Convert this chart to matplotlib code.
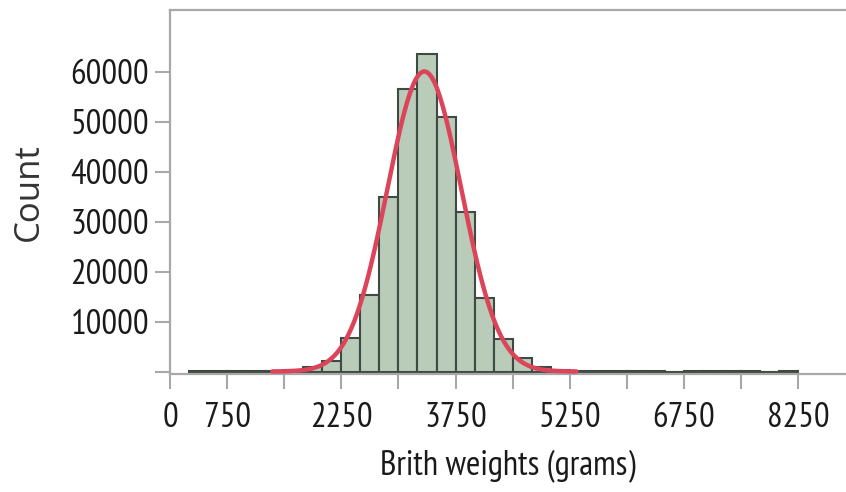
import numpy as np
import matplotlib
matplotlib.use("Agg")
import matplotlib.pyplot as plt

# histogram of birth weights, 250 g bins
bin_edges = list(range(250, 8251, 250))
counts = [150, 150, 150, 150, 200, 300, 960, 2160, 6640, 15300, 34960, 56440,
          63500, 50840, 31840, 14760, 6500, 2640, 960, 300, 200, 150, 150, 150,
          150, 0, 150, 150, 150, 150, 0, 150]

# fitted normal curve
mu = 3340
sigma = 487
n_total = 293000
bin_width = 250

x_ticks = list(range(0, 8251, 750))
x_labels = ["0", "750", "", "2250", "", "3750", "", "5250", "", "6750", "", "8250"]
y_ticks = [0, 10000, 20000, 30000, 40000, 50000, 60000]
y_labels = ["", "10000", "20000", "30000", "40000", "50000", "60000"]

narrow = ["PT Sans Narrow", "DejaVu Sans"]
grey = "#a8a8a8"

fig = plt.figure(figsize=(8.46, 4.92), dpi=100)
ax = fig.add_axes([170 / 846, 1 - 374 / 492, 1 - 170 / 846, 364 / 492])

lefts = np.array(bin_edges[:-1])
ax.bar(lefts, counts, width=bin_width, align="edge", color="#b9cbb9",
       edgecolor="#3f4a42", linewidth=1.5, zorder=2)

xs = np.linspace(mu - 4.1 * sigma, mu + 4.1 * sigma, 400)
ys = n_total * bin_width / (sigma * np.sqrt(2 * np.pi)) * np.exp(-0.5 * ((xs - mu) / sigma) ** 2)
ax.plot(xs, ys, color="#dc4459", linewidth=3.2, zorder=3, solid_capstyle="round")

ax.set_xlim(0, 8877)
ax.set_ylim(-500, 72300)

ax.set_xticks(x_ticks)
ax.set_xticklabels(x_labels, family=narrow, fontsize=25, color="#1a1a1a")
ax.set_yticks(y_ticks)
ax.set_yticklabels(y_labels, family=narrow, fontsize=25, color="#1a1a1a")
ax.tick_params(axis="both", direction="out", length=11, width=1.5, color=grey)
ax.tick_params(axis="x", pad=9)
ax.tick_params(axis="y", pad=4)

for side in ["left", "bottom", "top"]:
    ax.spines[side].set_color(grey)
    ax.spines[side].set_linewidth(1.6)
ax.spines["right"].set_visible(False)

ax.set_xlabel("Brith weights (grams)", family=narrow, fontsize=25, color="#1a1a1a", labelpad=11)
ax.set_ylabel("Count", family=["Open Sans", "DejaVu Sans"], fontsize=25, color="#333333", labelpad=18)

fig.savefig("out.png", dpi=100)
